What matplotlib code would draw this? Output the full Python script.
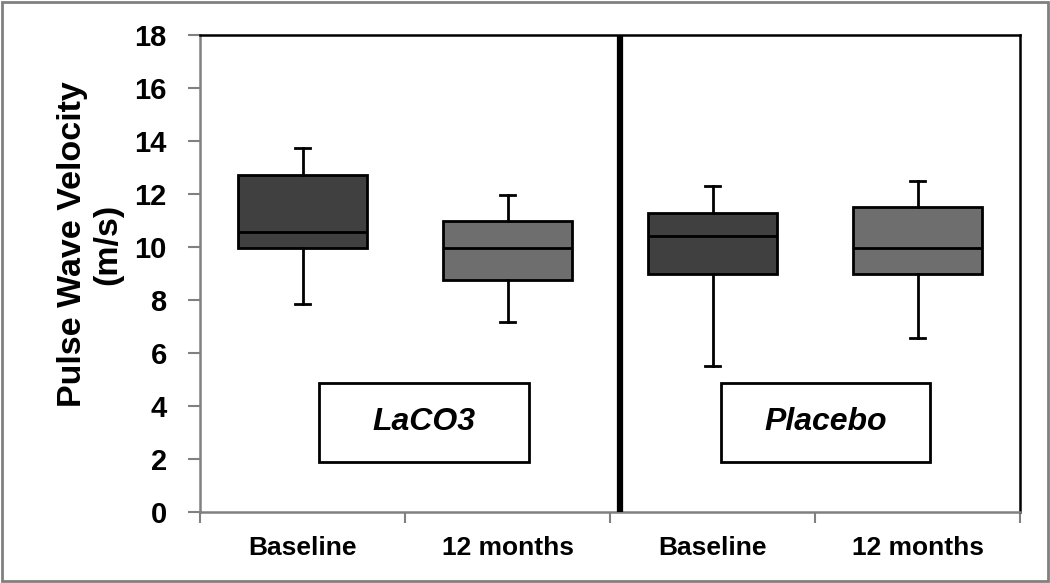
import matplotlib.pyplot as plt
from matplotlib.patches import Rectangle

plt.rcParams['font.family'] = ['Liberation Sans', 'DejaVu Sans']

# data (m/s)
groups     = ["Baseline", "12 months", "Baseline", "12 months"]
whisk_low  = [7.86, 7.16, 5.5, 6.56]
q1         = [9.97, 8.75, 8.98, 8.98]
medians    = [10.58, 9.97, 10.4, 9.96]
q3         = [12.73, 11.0, 11.28, 11.5]
whisk_high = [13.75, 11.98, 12.32, 12.5]
box_colors = ["#404040", "#6e6e6e", "#404040", "#6e6e6e"]
treatments = ["LaCO3", "Placebo"]

fig = plt.figure(figsize=(10.5, 5.83), dpi=100)
ax = fig.add_axes([200 / 1050, 71 / 583, 820 / 1050, 477 / 583])

positions = [i + 0.5 for i in range(len(groups))]
stats = []
for i, lab in enumerate(groups):
    stats.append(dict(label=lab, whislo=whisk_low[i], q1=q1[i], med=medians[i],
                      q3=q3[i], whishi=whisk_high[i], fliers=[]))

bp = ax.bxp(stats, positions=positions, widths=0.63, patch_artist=True,
            showfliers=False,
            boxprops=dict(linewidth=2.0, edgecolor="black"),
            medianprops=dict(color="black", linewidth=2.0),
            whiskerprops=dict(color="black", linewidth=2.0),
            capprops=dict(color="black", linewidth=2.0),
            capwidths=0.07)
for patch, c in zip(bp["boxes"], box_colors):
    patch.set_facecolor(c)

# divider between the two treatment groups
ax.axvline(2.05, color="black", linewidth=4.5, zorder=5)

# treatment labels in framed boxes
label_boxes = [(0.58, 1.605), (2.54, 3.56)]
for (x0, x1), name in zip(label_boxes, treatments):
    ax.add_patch(Rectangle((x0, 1.89), x1 - x0, 4.87 - 1.89, facecolor="white",
                           edgecolor="black", linewidth=2, zorder=4))
    ax.text((x0 + x1) / 2, (1.89 + 4.87) / 2, name, ha="center", va="center",
            fontsize=23, fontweight="bold", fontstyle="italic", zorder=6)

ax.set_xlim(0, 4)
ax.set_ylim(0, 18)
ax.set_yticks(range(0, 19, 2))
ax.set_yticklabels([str(v) for v in range(0, 19, 2)], fontsize=21, fontweight="bold")
ax.set_xticks(range(0, 5))
ax.set_xticklabels([])
ax.set_xticks(positions, minor=True)
ax.set_xticklabels(groups, minor=True, fontsize=19, fontweight="bold")
ax.tick_params(axis="x", which="minor", length=0, pad=17)
ax.tick_params(axis="x", which="major", length=8, width=1.5, color="#808080", direction="out")
ax.tick_params(axis="y", length=9, width=1.5, color="#808080", pad=15)

ax.spines["left"].set_color("#808080")
ax.spines["bottom"].set_color("#808080")
for side in ["left", "bottom", "top", "right"]:
    ax.spines[side].set_linewidth(1.8)

ax.set_ylabel("Pulse Wave Velocity\n(m/s)", fontsize=24.5, fontweight="bold",
              linespacing=1.15)
ax.yaxis.set_label_coords(-0.094, 0.562)

# gray frame around the whole figure
fig.patches.append(Rectangle((0.002, 0.003), 0.996, 0.994, transform=fig.transFigure,
                             fill=False, edgecolor="#808080", linewidth=2))

fig.savefig("out.png", dpi=100)
